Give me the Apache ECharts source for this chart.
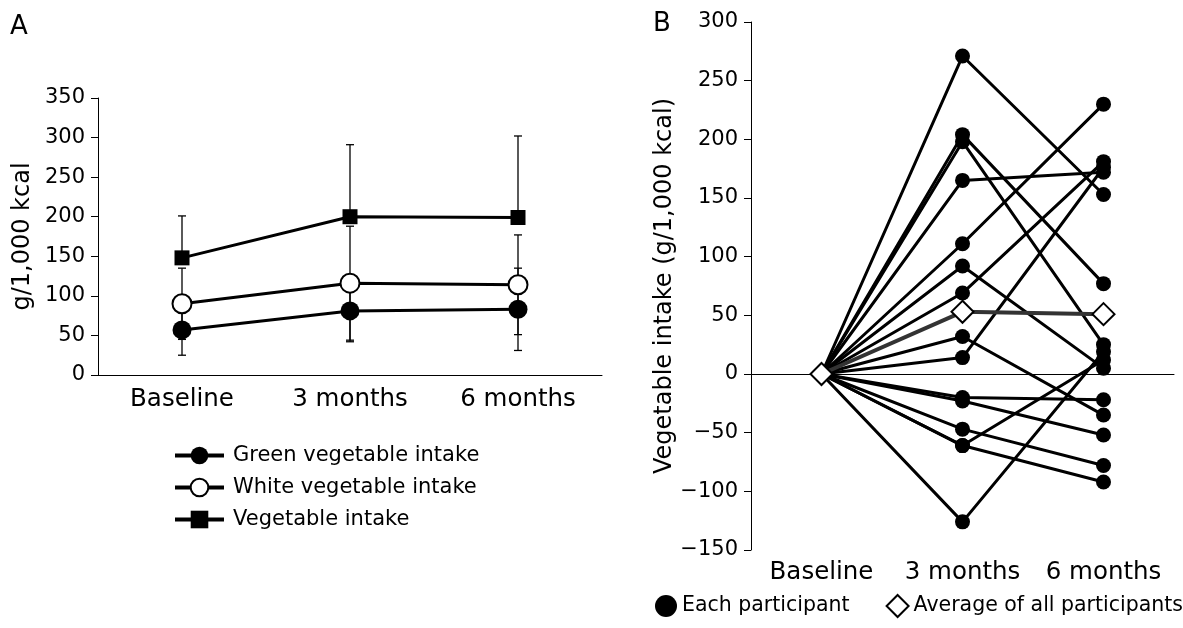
<!DOCTYPE html>
<html>
<head>
<meta charset="utf-8">
<script src="https://cdn.jsdelivr.net/npm/echarts@6/dist/echarts.min.js"></script>
<style>
html, body { margin: 0; padding: 0; background: #fff; }
#main { width: 1183px; height: 628px; }
</style>
</head>
<body>
<div id="main"></div>
<script>
var categories = ['Baseline', '3 months', '6 months'];

// panel A: mean and SD (g/1,000 kcal)
var greenMean = [57, 81, 83];
var greenSd = [32, 39, 52];
var whiteMean = [90, 116, 114];
var whiteSd = [45, 72, 63];
var vegMean = [148, 200, 199];
var vegSd = [53, 91, 103];

// panel B: change from baseline, one entry per participant
var change3m = [271, 204, 198, 165, 111, 92, 69, 32, 14, -20, -23, -47, -61, -61, -126];
var change6m = [153, 77, 25, 172, 230, 5, 181, -35, 176, -22, -52, -78, -92, 12, 19];
var avgChange = [0, 53, 51];

var FONT = 'DejaVu Sans';
var chart = echarts.init(document.getElementById('main'));

function errorBar(params, api) {
    var x = api.value(0);
    var lo = api.coord([x, api.value(1)]);
    var hi = api.coord([x, api.value(2)]);
    var w = 4;
    var st = { stroke: '#000', lineWidth: 1.3 };
    return {
        type: 'group',
        children: [
            { type: 'line', shape: { x1: lo[0], y1: lo[1], x2: hi[0], y2: hi[1] }, style: st },
            { type: 'line', shape: { x1: lo[0] - w, y1: lo[1], x2: lo[0] + w, y2: lo[1] }, style: st },
            { type: 'line', shape: { x1: hi[0] - w, y1: hi[1], x2: hi[0] + w, y2: hi[1] }, style: st }
        ]
    };
}

function bars(mean, sd, upperOnly) {
    return mean.map(function (m, i) {
        return [i, upperOnly ? m : m - sd[i], m + sd[i]];
    });
}

var axisLine = { lineStyle: { color: '#000', width: 1 } };
var axisTick = { length: 7, lineStyle: { color: '#000', width: 1 } };

var series = [
    { type: 'custom', xAxisIndex: 0, yAxisIndex: 0, renderItem: errorBar, data: bars(vegMean, vegSd, true), z: 1, silent: true },
    { type: 'custom', xAxisIndex: 0, yAxisIndex: 0, renderItem: errorBar, data: bars(whiteMean, whiteSd), z: 1, silent: true },
    { type: 'custom', xAxisIndex: 0, yAxisIndex: 0, renderItem: errorBar, data: bars(greenMean, greenSd), z: 1, silent: true },
    {
        name: 'Green vegetable intake', type: 'line', xAxisIndex: 0, yAxisIndex: 0, data: greenMean,
        symbol: 'circle', symbolSize: 19, z: 3,
        itemStyle: { color: '#000' }, lineStyle: { color: '#000', width: 3 }
    },
    {
        name: 'White vegetable intake', type: 'line', xAxisIndex: 0, yAxisIndex: 0, data: whiteMean,
        symbol: 'circle', symbolSize: 19, z: 3,
        itemStyle: { color: '#fff', borderColor: '#000', borderWidth: 2 }, lineStyle: { color: '#000', width: 3 }
    },
    {
        name: 'Vegetable intake', type: 'line', xAxisIndex: 0, yAxisIndex: 0, data: vegMean,
        symbol: 'rect', symbolSize: 15, z: 3,
        itemStyle: { color: '#000' }, lineStyle: { color: '#000', width: 3 }
    }
];

change3m.forEach(function (v3, i) {
    series.push({
        name: 'Each participant', type: 'line', xAxisIndex: 1, yAxisIndex: 1,
        data: [{ value: 0, symbol: 'none' }, v3, change6m[i]],
        symbol: 'circle', symbolSize: 15, z: 3,
        itemStyle: { color: '#000' }, lineStyle: { color: '#000', width: 3 }
    });
});

series.push({
    name: 'Average of all participants', type: 'line', xAxisIndex: 1, yAxisIndex: 1,
    data: avgChange, symbol: 'diamond', symbolSize: 22, z: 5,
    itemStyle: { color: '#fff', borderColor: '#000', borderWidth: 2 },
    lineStyle: { color: '#333', width: 4 }
});

var option = {
    animation: false,
    textStyle: { fontFamily: FONT, color: '#000' },
    graphic: [
        { type: 'text', left: 10, top: 14, style: { text: 'A', font: '26px "DejaVu Sans"', fill: '#000' } },
        { type: 'text', left: 653, top: 11, style: { text: 'B', font: '26px "DejaVu Sans"', fill: '#000' } }
    ],
    grid: [
        { left: 98, top: 98, width: 504, height: 277 },
        { left: 751, top: 22, width: 423, height: 528 }
    ],
    legend: [
        {
            orient: 'vertical', left: 168, top: 440, itemGap: 11, itemWidth: 49, itemHeight: 22,
            selectedMode: false,
            lineStyle: { width: 4 },
            textStyle: { fontFamily: FONT, fontSize: 21, color: '#000', padding: [0, 0, 0, 4] },
            data: ['Green vegetable intake', 'White vegetable intake', 'Vegetable intake']
        },
        {
            orient: 'horizontal', left: 655, top: 594, width: 560, padding: 0, itemGap: 36,
            itemWidth: 22, itemHeight: 22,
            selectedMode: false,
            textStyle: { fontFamily: FONT, fontSize: 20.5, color: '#000' },
            data: [
                { name: 'Each participant', icon: 'circle', itemStyle: { color: '#000' } },
                { name: 'Average of all participants', icon: 'diamond', itemStyle: { color: '#fff', borderColor: '#000', borderWidth: 2 } }
            ]
        }
    ],
    xAxis: [
        {
            type: 'category', gridIndex: 0, data: categories, boundaryGap: true,
            axisLine: axisLine, axisTick: axisTick,
            axisLabel: { fontFamily: FONT, fontSize: 24.5, color: '#000', margin: 12, interval: 0 }
        },
        {
            type: 'category', gridIndex: 1, data: categories, boundaryGap: true, position: 'bottom',
            axisLine: { show: false, onZero: false }, axisTick: { show: false },
            axisLabel: { fontFamily: FONT, fontSize: 24.5, color: '#000', margin: 10, interval: 0 }
        },
        {
            type: 'category', gridIndex: 1, data: categories, boundaryGap: true, position: 'bottom',
            axisLine: { show: true, onZero: true, lineStyle: { color: '#000', width: 1 } },
            axisTick: { length: 6, lineStyle: { color: '#000' } },
            axisLabel: { show: false }
        }
    ],
    yAxis: [
        {
            type: 'value', gridIndex: 0, min: 0, max: 350, interval: 50,
            name: 'g/1,000 kcal', nameLocation: 'middle', nameGap: 63,
            nameTextStyle: { fontFamily: FONT, fontSize: 24, color: '#000' },
            axisLine: { show: true, lineStyle: { color: '#000', width: 1 } }, axisTick: { show: true, length: 7, lineStyle: { color: '#000' } },
            splitLine: { show: false },
            axisLabel: { fontFamily: FONT, fontSize: 21, color: '#000', margin: 13 }
        },
        {
            type: 'value', gridIndex: 1, min: -150, max: 300, interval: 50,
            name: 'Vegetable intake (g/1,000 kcal)', nameLocation: 'middle', nameGap: 68,
            nameTextStyle: { fontFamily: FONT, fontSize: 24, color: '#000' },
            axisLine: { show: true, onZero: false, lineStyle: { color: '#000', width: 1 } }, axisTick: { show: true, length: 7, lineStyle: { color: '#000' } },
            splitLine: { show: false },
            axisLabel: { fontFamily: FONT, fontSize: 21, color: '#000', margin: 13,
                formatter: function (v) { return v < 0 ? '\u2212' + (-v) : v; } }
        }
    ],
    series: series
};

chart.setOption(option);
</script>
</body>
</html>
